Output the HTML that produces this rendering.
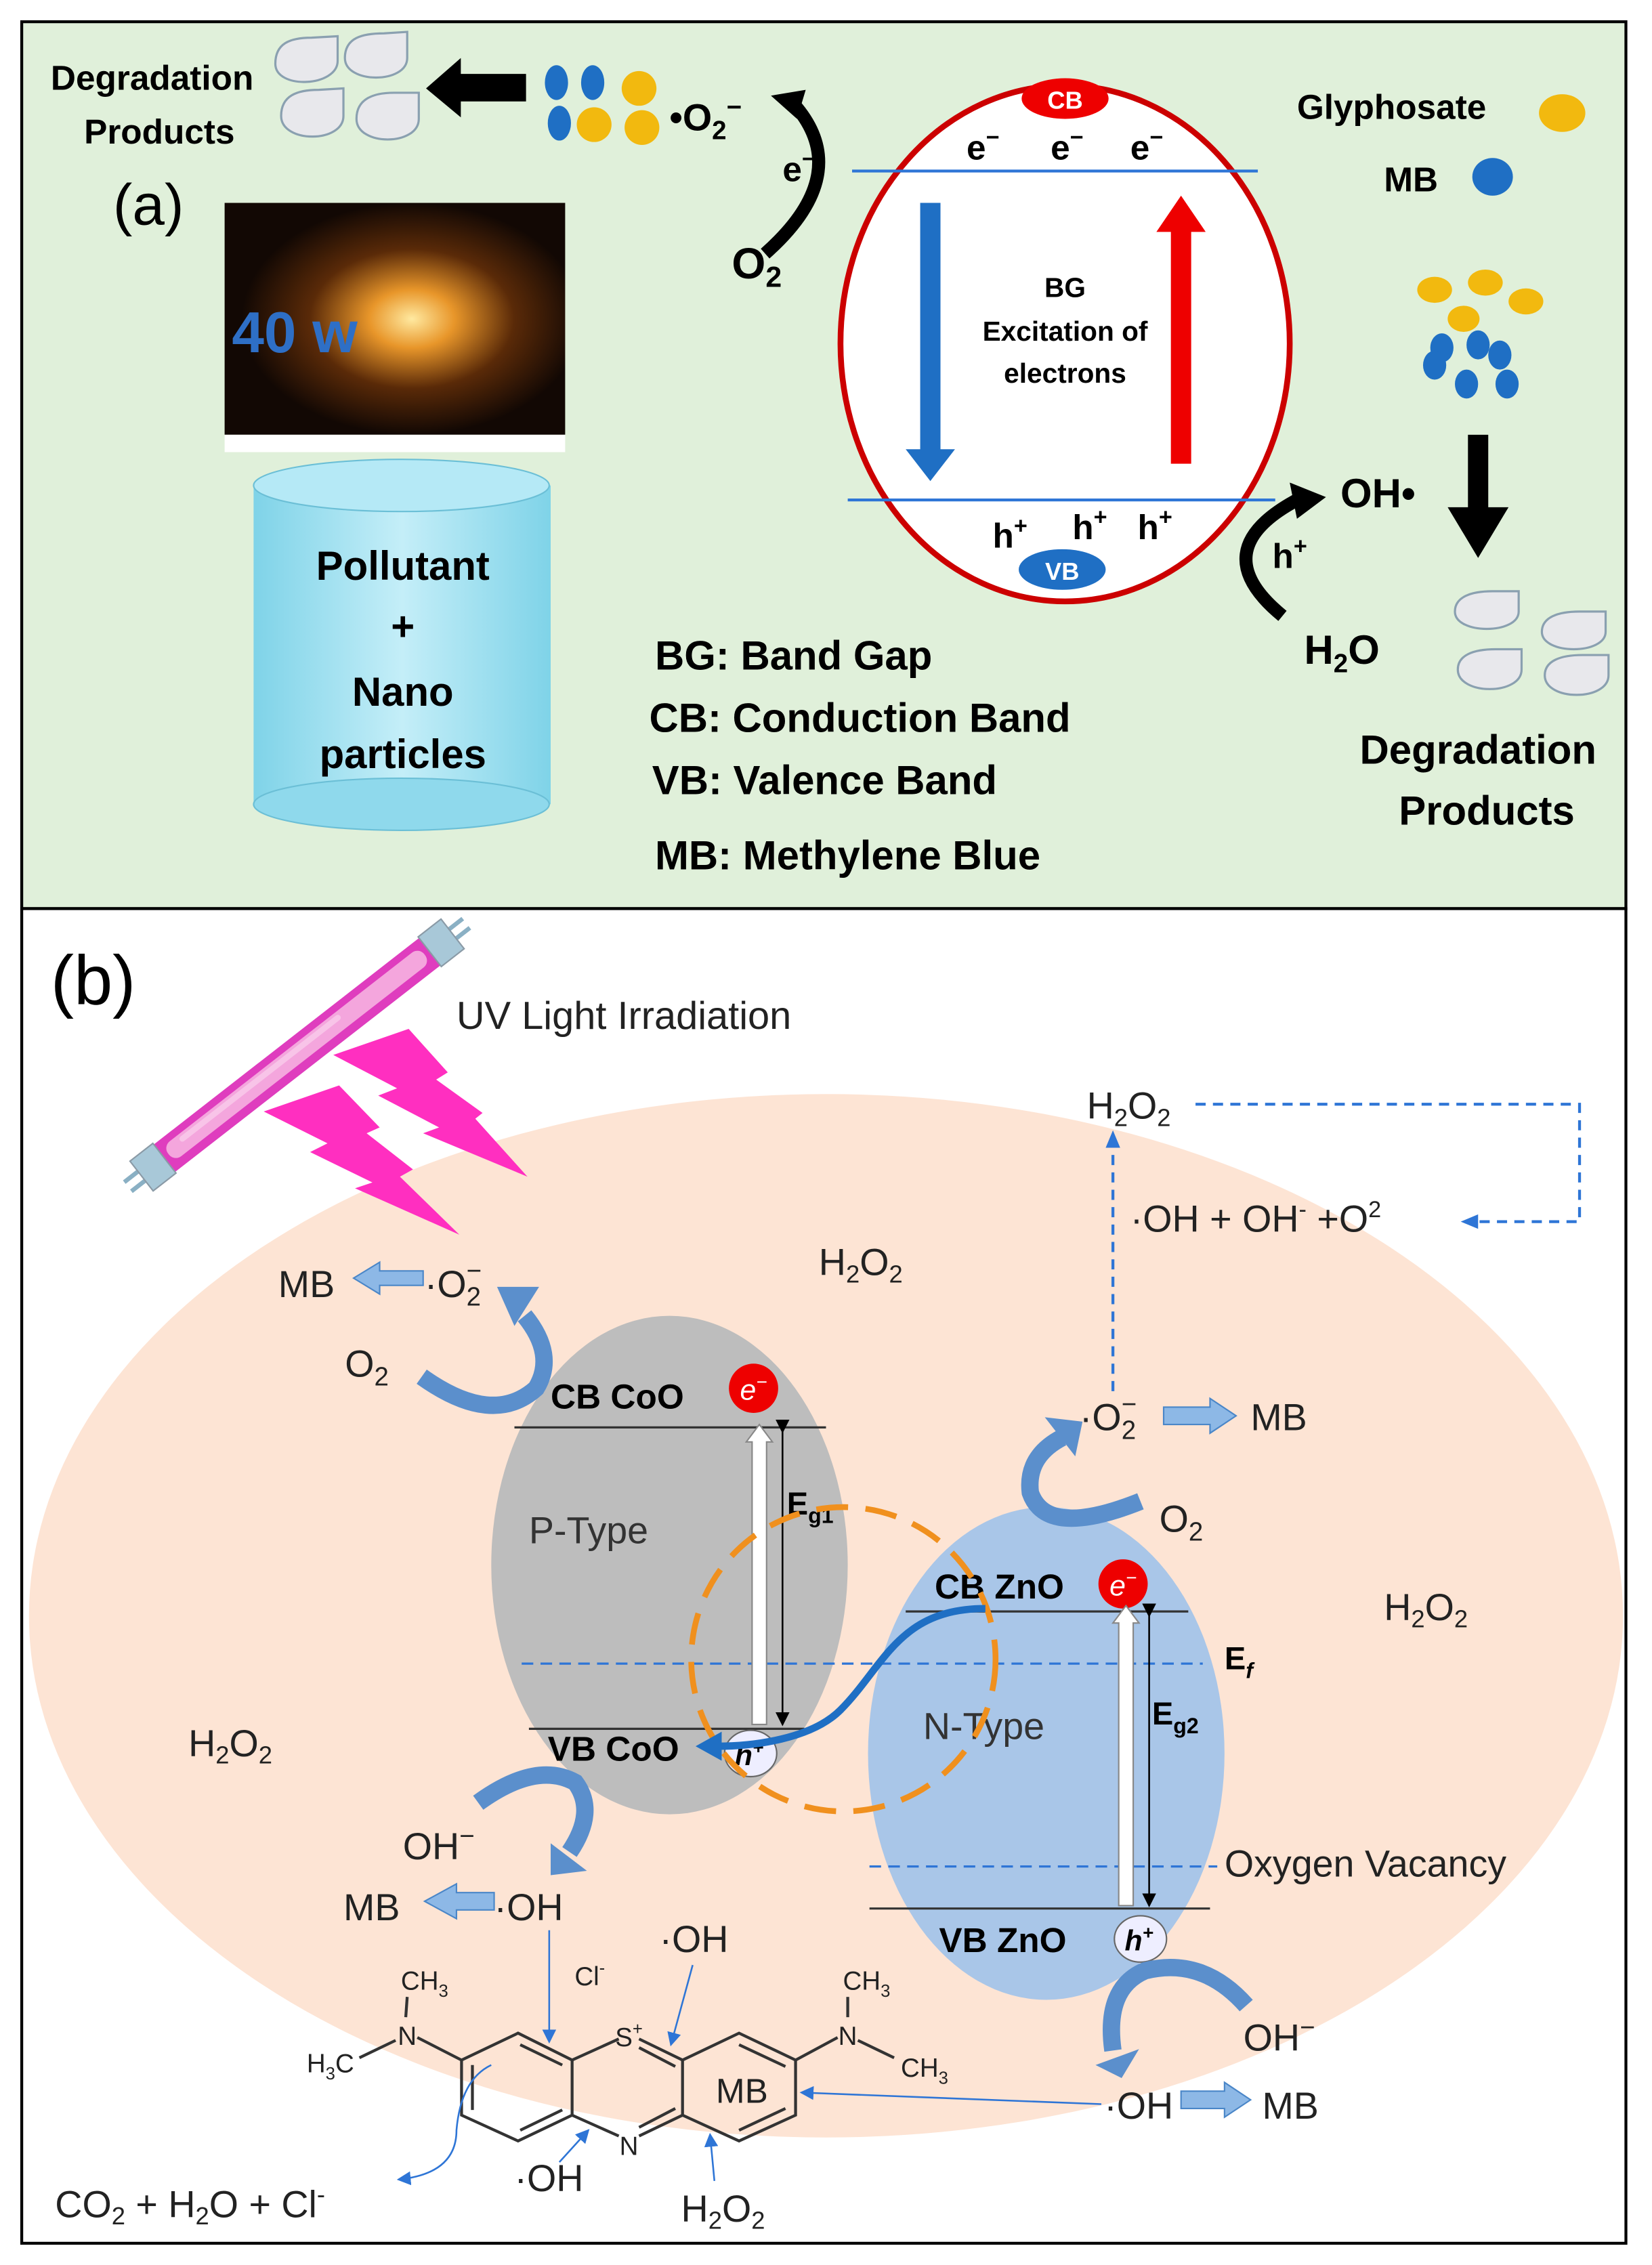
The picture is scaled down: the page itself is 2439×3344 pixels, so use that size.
<!DOCTYPE html>
<html><head><meta charset="utf-8"><style>
html,body{margin:0;padding:0;background:#fff}
svg{display:block}
text{font-family:"Liberation Sans",sans-serif}
.b{font-weight:bold}
</style></head><body>
<svg width="2439" height="3344" viewBox="0 0 1140 1563" xmlns="http://www.w3.org/2000/svg">
<defs>
<radialGradient id="glow" cx="0.55" cy="0.5" r="0.5"><stop offset="0" stop-color="#ffe9a0"/><stop offset="0.25" stop-color="#e8962a"/><stop offset="0.6" stop-color="#5a2a08"/><stop offset="1" stop-color="#120804"/></radialGradient>
<linearGradient id="cyl" x1="0" x2="1"><stop offset="0" stop-color="#7fd3e8"/><stop offset="0.5" stop-color="#c4eef8"/><stop offset="1" stop-color="#7fd3e8"/></linearGradient>
<marker id="ah" markerWidth="8" markerHeight="8" refX="7" refY="4" orient="auto"><path d="M0,0 L8,4 L0,8z" fill="#2e75d6"/></marker>
<marker id="ahk" markerWidth="8" markerHeight="8" refX="7" refY="4" orient="auto"><path d="M0,0 L8,4 L0,8z" fill="#000"/></marker>
</defs>
<rect width="1140" height="1563" fill="#fff"/>
<!-- Panel a -->
<rect x="15" y="15" width="1107" height="612" fill="#e0f0da" stroke="#000" stroke-width="2"/>
<text x="105" y="62" class="b" font-size="24" text-anchor="middle">Degradation</text>
<text x="110" y="99" class="b" font-size="24" text-anchor="middle">Products</text>
<g fill="#e8e8ec" stroke="#8aa0b0" stroke-width="1.5">
<path d="M233,25 V42 C233,60 190,62 190,44 C190,30 200,26 215,26z"/>
<path d="M281,22 V40 C281,58 238,58 238,40 C238,26 250,23 265,23z"/>
<path d="M237,61 V80 C237,99 194,99 194,80 C194,66 205,62 220,62z"/>
<path d="M289,64 V82 C289,101 246,101 246,82 C246,68 258,64 272,64z"/>
<path d="M1048,408 V422 C1048,438 1004,438 1004,422 C1004,412 1015,408 1030,408z"/>
<path d="M1108,422 V436 C1108,452 1064,452 1064,436 C1064,426 1075,422 1090,422z"/>
<path d="M1050,448 V462 C1050,480 1006,480 1006,462 C1006,452 1017,448 1032,448z"/>
<path d="M1110,452 V466 C1110,484 1066,484 1066,466 C1066,456 1077,452 1092,452z"/></g>
<path d="M363,51 h-45 v-11 l-24,21 24,20 v-11 h45z" fill="#000"/>
<g><ellipse cx="384" cy="57" rx="8" ry="12" fill="#1f6fc4"/><ellipse cx="409" cy="57" rx="8" ry="12" fill="#1f6fc4"/><circle cx="441" cy="61" r="12" fill="#f2b90f"/><ellipse cx="386" cy="85" rx="8" ry="12" fill="#1f6fc4"/><circle cx="410" cy="86" r="12" fill="#f2b90f"/><circle cx="443" cy="88" r="12" fill="#f2b90f"/></g>
<text x="462" y="90" class="b" font-size="26">•O<tspan font-size="18" dy="6">2</tspan><tspan font-size="18" dy="-16">−</tspan></text>
<path d="M528,175 Q590,120 548,72" fill="none" stroke="#000" stroke-width="9"/><path d="M532,66 l24,-4 -6,20z" fill="#000"/>
<text x="540" y="125" class="b" font-size="24">e<tspan font-size="16" dy="-10">−</tspan></text>
<text x="505" y="192" class="b" font-size="30">O<tspan font-size="20" dy="6">2</tspan></text>
<text x="78" y="155" font-size="40">(a)</text>
<rect x="155" y="140" width="235" height="160" fill="url(#glow)"/>
<rect x="155" y="300" width="235" height="12" fill="#fff"/>
<text x="160" y="243" class="b" font-size="40" fill="#2e6fc6">40 w</text>
<rect x="175" y="335" width="205" height="220" fill="url(#cyl)"/>
<ellipse cx="277" cy="555" rx="102" ry="18" fill="#8fd9ec" stroke="#6bbfd6"/>
<ellipse cx="277" cy="335" rx="102" ry="18" fill="#b5e9f6" stroke="#6bbfd6"/>
<g class="b" font-size="28" text-anchor="middle"><text x="278" y="400">Pollutant</text><text x="278" y="442">+</text><text x="278" y="487">Nano</text><text x="278" y="530">particles</text></g>
<ellipse cx="735" cy="237" rx="155" ry="178" fill="#fff" stroke="#c00" stroke-width="4"/>
<ellipse cx="735" cy="68" rx="30" ry="14" fill="#e00"/><text x="735" y="75" font-size="17" fill="#fff" text-anchor="middle" class="b">CB</text>
<g class="b" font-size="24"><text x="667" y="110">e<tspan font-size="16" dy="-10">−</tspan></text><text x="725" y="110">e<tspan font-size="16" dy="-10">−</tspan></text><text x="780" y="110">e<tspan font-size="16" dy="-10">−</tspan></text></g>
<line x1="588" y1="118" x2="868" y2="118" stroke="#2e75d6" stroke-width="2"/>
<line x1="585" y1="345" x2="880" y2="345" stroke="#2e75d6" stroke-width="2"/>
<path d="M635,140 h14 v170 h10 l-17,22 -17,-22 h10z" fill="#1f6fc4"/>
<path d="M808,320 h14 v-160 h10 l-17,-25 -17,25 h10z" fill="#e00"/>
<g class="b" font-size="19" text-anchor="middle"><text x="735" y="205">BG</text><text x="735" y="235">Excitation of</text><text x="735" y="264">electrons</text></g>
<g class="b" font-size="24"><text x="685" y="378">h<tspan font-size="16" dy="-10">+</tspan></text><text x="740" y="372">h<tspan font-size="16" dy="-10">+</tspan></text><text x="785" y="372">h<tspan font-size="16" dy="-10">+</tspan></text></g>
<ellipse cx="733" cy="393" rx="30" ry="14" fill="#1f6fc4"/><text x="733" y="400" font-size="17" fill="#fff" text-anchor="middle" class="b">VB</text>
<path d="M885,425 Q830,380 895,345" fill="none" stroke="#000" stroke-width="9"/><path d="M890,333 l25,10 -20,15z" fill="#000"/>
<text x="925" y="350" class="b" font-size="28">OH•</text>
<text x="878" y="392" class="b" font-size="24">h<tspan font-size="16" dy="-10">+</tspan></text>
<text x="900" y="458" class="b" font-size="28">H<tspan font-size="18" dy="6">2</tspan><tspan dy="-6">O</tspan></text>
<text x="895" y="82" class="b" font-size="24">Glyphosate</text><ellipse cx="1078" cy="78" rx="16" ry="13" fill="#f2b90f"/>
<text x="955" y="132" class="b" font-size="24">MB</text><ellipse cx="1030" cy="122" rx="14" ry="13" fill="#1f6fc4"/>
<g fill="#f2b90f"><ellipse cx="990" cy="200" rx="12" ry="9"/><ellipse cx="1025" cy="195" rx="12" ry="9"/><ellipse cx="1053" cy="208" rx="12" ry="9"/><ellipse cx="1010" cy="220" rx="11" ry="9"/></g>
<g fill="#1f6fc4"><ellipse cx="995" cy="240" rx="8" ry="10"/><ellipse cx="1020" cy="238" rx="8" ry="10"/><ellipse cx="990" cy="252" rx="8" ry="10"/><ellipse cx="1012" cy="265" rx="8" ry="10"/><ellipse cx="1040" cy="265" rx="8" ry="10"/><ellipse cx="1035" cy="245" rx="8" ry="10"/></g>
<path d="M1013,300 h14 v50 h14 l-21,35 -21,-35 h14z" fill="#000"/>
<text x="1020" y="527" class="b" font-size="28" text-anchor="middle">Degradation</text>
<text x="1026" y="569" class="b" font-size="28" text-anchor="middle">Products</text>
<g class="b" font-size="28"><text x="452" y="462">BG: Band Gap</text><text x="448" y="505">CB: Conduction Band</text><text x="450" y="548">VB: Valence Band</text><text x="452" y="600">MB: Methylene Blue</text></g>
<!-- Panel b -->
<rect x="15" y="627" width="1107" height="921" fill="#fff" stroke="#000" stroke-width="2"/>
<ellipse cx="570" cy="1115" rx="550" ry="360" fill="#fde4d4"/>
<text x="35" y="693" font-size="48">(b)</text>
<g transform="translate(205,728) rotate(-37.9)">
<line x1="-148" y1="-4" x2="-135" y2="-4" stroke="#8ab0c4" stroke-width="3"/><line x1="-148" y1="4" x2="-135" y2="4" stroke="#8ab0c4" stroke-width="3"/>
<line x1="135" y1="-4" x2="148" y2="-4" stroke="#8ab0c4" stroke-width="3"/><line x1="135" y1="4" x2="148" y2="4" stroke="#8ab0c4" stroke-width="3"/>
<rect x="-118" y="-12" width="236" height="24" fill="#df3dbe"/>
<rect x="-112" y="-7" width="224" height="13" rx="6" fill="#f4a6dd"/>
<rect x="-100" y="-5" width="140" height="4" rx="2" fill="#f8c4e8"/>
<rect x="-136" y="-13" width="20" height="26" fill="#a8c8d8" stroke="#8a9aa6"/>
<rect x="116" y="-13" width="20" height="26" fill="#a8c8d8" stroke="#8a9aa6"/></g>
<polygon points="282,710 230,728 274,751 261,756 303,778 292,782 364,812 328,772 333,768 301,745 309,740" fill="#ff2fc0"/>
<polygon points="234,749 182,767 226,789 214,795 257,816 245,820 317,852 276,812 285,807 253,782 262,778" fill="#ff2fc0"/>
<text x="315" y="710" font-size="27" fill="#222">UV Light Irradiation</text>
<ellipse cx="462" cy="1080" rx="123" ry="172" fill="#bdbdbd"/>
<ellipse cx="722" cy="1210" rx="123" ry="170" fill="#a9c6e8"/>
<g stroke="#333" stroke-width="1.5"><line x1="355" y1="985" x2="570" y2="985"/><line x1="365" y1="1193" x2="555" y2="1193"/><line x1="625" y1="1112" x2="820" y2="1112"/><line x1="600" y1="1317" x2="835" y2="1317"/></g>
<g stroke="#2e75d6" stroke-width="1.5" stroke-dasharray="8,5" fill="none"><line x1="360" y1="1148" x2="830" y2="1148"/><line x1="600" y1="1288" x2="840" y2="1288"/></g>
<g font-size="24" class="b"><text x="380" y="972">CB CoO</text><text x="378" y="1215">VB CoO</text><text x="645" y="1103">CB ZnO</text><text x="648" y="1347">VB ZnO</text></g>
<circle cx="520" cy="958" r="17" fill="#e00"/><text x="520" y="966" font-size="20" fill="#fff" text-anchor="middle" font-style="italic">e<tspan font-size="13" dy="-8">−</tspan></text>
<circle cx="775" cy="1093" r="17" fill="#e00"/><text x="775" y="1101" font-size="20" fill="#fff" text-anchor="middle" font-style="italic">e<tspan font-size="13" dy="-8">−</tspan></text>
<ellipse cx="518" cy="1210" rx="18" ry="16" fill="#eef" stroke="#666"/><text x="517" y="1218" font-size="20" text-anchor="middle" class="b" font-style="italic">h<tspan font-size="13" dy="-8">+</tspan></text>
<ellipse cx="787" cy="1338" rx="18" ry="16" fill="#eef" stroke="#666"/><text x="786" y="1346" font-size="20" text-anchor="middle" class="b" font-style="italic">h<tspan font-size="13" dy="-8">+</tspan></text>
<text x="365" y="1065" font-size="26" fill="#333">P-Type</text>
<text x="637" y="1200" font-size="26" fill="#333">N-Type</text>
<text x="543" y="1045" font-size="22" class="b">E<tspan font-size="15" dy="6">g1</tspan></text>
<text x="795" y="1190" font-size="22" class="b">E<tspan font-size="15" dy="6">g2</tspan></text>
<text x="845" y="1152" font-size="22" class="b">E<tspan font-size="15" dy="6" font-style="italic">f</tspan></text>
<text x="845" y="1295" font-size="26" fill="#222">Oxygen Vacancy</text>
<path d="M519,1190 v-195 h-4 l9,-12 9,12 h-4 v195z" fill="#fff" stroke="#888"/>
<path d="M772,1315 v-195 h-4 l9,-12 9,12 h-4 v195z" fill="#fff" stroke="#888"/>
<line x1="540" y1="988" x2="540" y2="1190" stroke="#000" stroke-width="1.2" marker-start="url(#ahk)" marker-end="url(#ahk)"/>
<line x1="793" y1="1115" x2="793" y2="1315" stroke="#000" stroke-width="1.2" marker-start="url(#ahk)" marker-end="url(#ahk)"/>
<circle cx="582" cy="1145" r="105" fill="none" stroke="#f0901e" stroke-width="4" stroke-dasharray="22,12"/>
<path d="M680,1110 C620,1110 610,1150 580,1180 C560,1200 520,1205 495,1205" fill="none" stroke="#1f6fc4" stroke-width="5"/><path d="M480,1205 l18,-10 0,20z" fill="#1f6fc4"/>
<g font-size="26" fill="#222"><text x="565" y="880">H<tspan font-size="17" dy="5">2</tspan><tspan dy="-5">O</tspan><tspan font-size="17" dy="5">2</tspan></text>
<text x="955" y="1118">H<tspan font-size="17" dy="5">2</tspan><tspan dy="-5">O</tspan><tspan font-size="17" dy="5">2</tspan></text>
<text x="130" y="1212">H<tspan font-size="17" dy="5">2</tspan><tspan dy="-5">O</tspan><tspan font-size="17" dy="5">2</tspan></text>
<text x="750" y="772">H<tspan font-size="17" dy="5">2</tspan><tspan dy="-5">O</tspan><tspan font-size="17" dy="5">2</tspan></text>
<text x="780" y="850">·OH + OH<tspan font-size="16" dy="-10">-</tspan><tspan dy="10"> +O</tspan><tspan font-size="16" dy="-10">2</tspan></text></g>
<g stroke="#2e75d6" stroke-width="2" stroke-dasharray="7,5" fill="none"><path d="M825,762 H1090 V843 H1015"/><path d="M768,960 V792"/></g>
<path d="M768,780 l-5,12 h10z" fill="#2e75d6"/><path d="M1008,843 l12,-5 v10z" fill="#2e75d6"/>
<g font-size="26" fill="#222">
<text x="192" y="895">MB</text><text x="293" y="895">·O<tspan font-size="18" dy="6">2</tspan><tspan font-size="18" dy="-18" dx="-10">−</tspan></text>
<text x="238" y="950">O<tspan font-size="18" dy="6">2</tspan></text>
<text x="745" y="987">·O<tspan font-size="18" dy="6">2</tspan><tspan font-size="18" dy="-18" dx="-10">−</tspan></text><text x="863" y="987">MB</text>
<text x="800" y="1057">O<tspan font-size="18" dy="6">2</tspan></text>
<text x="278" y="1283">OH<tspan font-size="18" dy="-10">−</tspan></text>
<text x="237" y="1325">MB</text><text x="341" y="1325">·OH</text>
<text x="858" y="1415">OH<tspan font-size="18" dy="-10">−</tspan></text>
<text x="762" y="1462">·OH</text><text x="871" y="1462">MB</text>
<text x="38" y="1530">CO<tspan font-size="17" dy="5">2</tspan><tspan dy="-5"> + H</tspan><tspan font-size="17" dy="5">2</tspan><tspan dy="-5">O + Cl</tspan><tspan font-size="17" dy="-10">-</tspan></text>
<text x="355" y="1512">·OH</text><text x="455" y="1347">·OH</text>
<text x="470" y="1533">H<tspan font-size="17" dy="5">2</tspan><tspan dy="-5">O</tspan><tspan font-size="17" dy="5">2</tspan></text>
</g>
<g fill="#8db8e6" stroke="#4a86c8" stroke-width="1">
<path d="M292,877 h-30 v-6 l-18,11 18,11 v-6 h30z"/>
<path d="M341,1306 h-26 v-6 l-22,12 22,12 v-6 h26z"/>
<path d="M803,971 h32 v-6 l18,12 -18,12 v-6 h-32z"/>
<path d="M815,1443 h30 v-6 l18,12 -18,12 v-6 h-30z"/>
</g>
<g fill="none" stroke="#5b8fcc" stroke-width="12" stroke-linecap="butt">
<path d="M291,950 Q340,985 370,958 Q384,935 362,908"/>
<path d="M787,1036 Q722,1062 711,1030 Q708,1005 733,992"/>
<path d="M860,1384 Q830,1350 790,1360 Q762,1372 768,1415"/>
<path d="M330,1244 Q370,1215 397,1230 Q412,1250 393,1278"/>
</g>
<g fill="#5b8fcc">
<polygon points="343,888 372,888 355,915"/>
<polygon points="747,981 721,978 742,1005"/>
<polygon points="774,1434 756,1425 786,1414"/>
<polygon points="380,1294 380,1272 405,1291"/>
</g>
<g fill="none" stroke="#333" stroke-width="2">
<polyline points="394.8,1421.6 357.5,1403 318.5,1421.6 318.5,1459.6 357.5,1477.4 394.8,1459.6 394.8,1421.6"/>
<polyline points="471,1421.6 510,1403 549,1421.6 549,1459.6 510,1477.4 471,1459.6 471,1421.6"/>
<line x1="394.8" y1="1421.6" x2="427" y2="1407"/><line x1="441" y1="1407" x2="471" y2="1421.6"/>
<line x1="394.8" y1="1459.6" x2="427" y2="1474"/><line x1="441" y1="1474" x2="471" y2="1459.6"/>
<line x1="359" y1="1411" x2="388" y2="1425"/><line x1="359" y1="1470" x2="388" y2="1456"/><line x1="326" y1="1425" x2="326" y2="1456"/>
<line x1="441" y1="1413" x2="466" y2="1426"/><line x1="441" y1="1468" x2="466" y2="1455"/>
<line x1="510" y1="1411" x2="542" y2="1426"/><line x1="510" y1="1470" x2="542" y2="1455"/>
<line x1="318.5" y1="1421.6" x2="288" y2="1406"/><line x1="280" y1="1392" x2="281" y2="1378"/><line x1="273" y1="1408" x2="248" y2="1420"/>
<line x1="549" y1="1421.6" x2="578" y2="1406"/><line x1="585" y1="1392" x2="585" y2="1378"/><line x1="592" y1="1408" x2="617" y2="1420"/>
</g>
<g font-size="18" fill="#222" text-anchor="middle"><text x="434" y="1412">S<tspan font-size="12" dy="-8">+</tspan></text><text x="434" y="1487">N</text><text x="281" y="1411">N</text><text x="585" y="1411">N</text>
<text x="293" y="1373">CH<tspan font-size="12" dy="5">3</tspan></text><text x="228" y="1430">H<tspan font-size="12" dy="5">3</tspan><tspan dy="-5">C</tspan></text>
<text x="598" y="1373">CH<tspan font-size="12" dy="5">3</tspan></text><text x="638" y="1433">CH<tspan font-size="12" dy="5">3</tspan></text>
<text x="407" y="1370">Cl<tspan font-size="12" dy="-8">-</tspan></text></g>
<text x="512" y="1451" font-size="24" fill="#222" text-anchor="middle">MB</text>
<g stroke="#2e75d6" stroke-width="1.2" fill="none">
<line x1="379" y1="1332" x2="379" y2="1409" marker-end="url(#ah)"/>
<line x1="478" y1="1356" x2="463" y2="1411" marker-end="url(#ah)"/>
<line x1="760" y1="1452" x2="553" y2="1444" marker-end="url(#ah)"/>
<line x1="386" y1="1492" x2="406" y2="1470" marker-end="url(#ah)"/>
<line x1="493" y1="1505" x2="490" y2="1473" marker-end="url(#ah)"/>
<path d="M339,1425 Q318,1435 315,1470 Q315,1500 275,1504" marker-end="url(#ah)"/>
</g>
</svg>
</body></html>
